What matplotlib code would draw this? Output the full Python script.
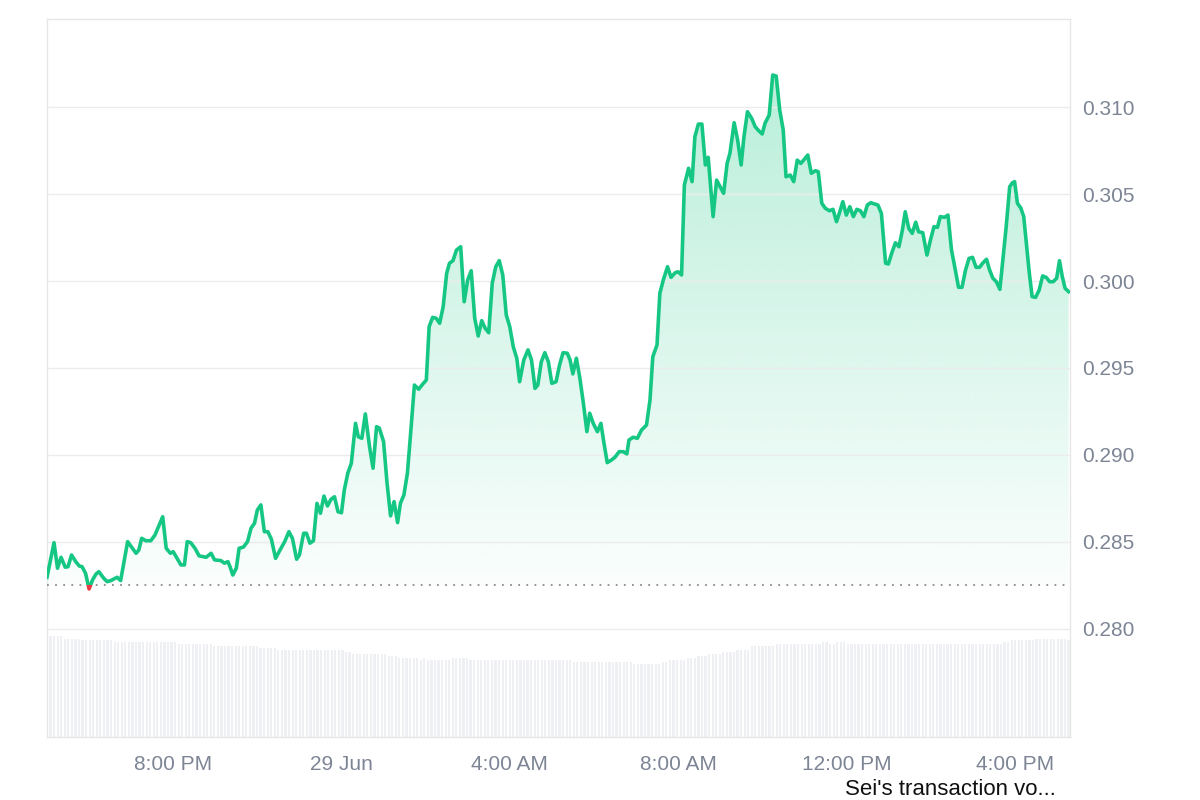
import numpy as np
import pandas as pd
import matplotlib
matplotlib.use("Agg")
import matplotlib.pyplot as plt
import matplotlib.dates as mdates
from matplotlib.colors import LinearSegmentedColormap, to_rgb
from matplotlib.patches import PathPatch, Rectangle
from matplotlib.path import Path
from matplotlib.transforms import blended_transform_factory

plt.rcParams["font.family"] = ["Liberation Sans", "DejaVu Sans"]

START = "2024-06-28 17:00"

# minutes after START
minutes = [
    0, 10, 15, 20, 26, 30, 35, 41, 46, 50,
    55, 60, 65, 70, 74, 81, 86, 91, 100, 105,
    115, 127, 131, 135, 141, 148, 154, 165, 170, 176,
    180, 191, 196, 200, 205, 211, 217, 227, 234, 239,
    248, 253, 258, 261, 265, 270, 274, 280, 286, 291,
    296, 300, 305, 310, 315, 320, 326, 331, 339, 345,
    350, 356, 360, 366, 370, 375, 380, 385, 390, 395,
    400, 405, 410, 415, 420, 424, 429, 434, 440, 444,
    449, 454, 460, 465, 470, 474, 480, 485, 490, 495,
    500, 504, 509, 514, 519, 524, 530, 536, 541, 545,
    550, 555, 560, 565, 570, 574, 579, 584, 590, 595,
    600, 605, 610, 615, 620, 625, 630, 635, 640, 645,
    650, 655, 660, 665, 670, 674, 680, 686, 691, 696,
    700, 705, 710, 715, 720, 726, 731, 736, 742, 746,
    750, 755, 760, 765, 770, 774, 779, 785, 790, 794,
    799, 805, 810, 816, 822, 827, 830, 836, 842, 848,
    855, 860, 864, 870, 874, 879, 885, 890, 896, 900,
    905, 909, 915, 920, 924, 929, 934, 939, 943, 950,
    955, 960, 965, 970, 974, 980, 985, 990, 994, 999,
    1005, 1010, 1015, 1020, 1024, 1030, 1035, 1040, 1045, 1050,
    1054, 1060, 1065, 1070, 1075, 1080, 1085, 1090, 1096, 1100,
    1105, 1110, 1116, 1121, 1126, 1130, 1135, 1140, 1145, 1150,
    1155, 1160, 1165, 1170, 1175, 1180, 1185, 1190, 1196, 1200,
    1205, 1210, 1215, 1220, 1224, 1229, 1234, 1239, 1243, 1249,
    1255, 1260, 1265, 1270, 1274, 1280, 1285, 1290, 1295, 1300,
    1305, 1310, 1315, 1320, 1325, 1330, 1335, 1340, 1344, 1349,
    1354, 1359, 1363, 1368, 1373, 1377, 1380, 1384, 1389, 1393,
    1397, 1401, 1405, 1410, 1415, 1420, 1425, 1430, 1435, 1440,
    1444, 1448, 1452, 1457,
]

# SEI price, USD
price = [
    0.28297, 0.28496, 0.28349, 0.28412, 0.28355, 0.28358, 0.28425, 0.28387, 0.28362, 0.28358,
    0.28320, 0.28230, 0.28282, 0.28316, 0.28329, 0.28291, 0.28272, 0.28278, 0.28297, 0.28278,
    0.28502, 0.28435, 0.28454, 0.28521, 0.28507, 0.28507, 0.28540, 0.28645, 0.28464, 0.28435,
    0.28444, 0.28368, 0.28368, 0.28502, 0.28496, 0.28464, 0.28420, 0.28412, 0.28435, 0.28397,
    0.28393, 0.28378, 0.28387, 0.28358, 0.28310, 0.28349, 0.28464, 0.28470, 0.28502, 0.28579,
    0.28608, 0.28684, 0.28713, 0.28559, 0.28559, 0.28516, 0.28406, 0.28444, 0.28502, 0.28559,
    0.28521, 0.28401, 0.28425, 0.28550, 0.28550, 0.28493, 0.28507, 0.28722, 0.28665, 0.28764,
    0.28707, 0.28745, 0.28760, 0.28674, 0.28668, 0.28799, 0.28895, 0.28952, 0.29182, 0.29105,
    0.29096, 0.29236, 0.29048, 0.28924, 0.29163, 0.29154, 0.29077, 0.28837, 0.28650, 0.28732,
    0.28611, 0.28722, 0.28770, 0.28895, 0.29144, 0.29402, 0.29378, 0.29408, 0.29431, 0.29737,
    0.29791, 0.29786, 0.29757, 0.29852, 0.30044, 0.30102, 0.30117, 0.30178, 0.30197, 0.29881,
    0.30006, 0.30059, 0.29786, 0.29684, 0.29772, 0.29728, 0.29703, 0.29987, 0.30082, 0.30117,
    0.30035, 0.29805, 0.29737, 0.29622, 0.29556, 0.29421, 0.29546, 0.29604, 0.29546, 0.29383,
    0.29402, 0.29536, 0.29588, 0.29536, 0.29412, 0.29421, 0.29517, 0.29588, 0.29585, 0.29546,
    0.29466, 0.29556, 0.29441, 0.29297, 0.29134, 0.29240, 0.29182, 0.29134, 0.29182, 0.29077,
    0.28956, 0.28971, 0.28987, 0.29019, 0.29019, 0.29006, 0.29086, 0.29102, 0.29096, 0.29144,
    0.29172, 0.29316, 0.29565, 0.29632, 0.29929, 0.30006, 0.30082, 0.30021, 0.30048, 0.30053,
    0.30035, 0.30552, 0.30648, 0.30571, 0.30829, 0.30902, 0.30902, 0.30667, 0.30711, 0.30370,
    0.30580, 0.30542, 0.30504, 0.30676, 0.30734, 0.30910, 0.30810, 0.30667, 0.30829, 0.30973,
    0.30935, 0.30887, 0.30864, 0.30845, 0.30906, 0.30954, 0.31184, 0.31178, 0.30983, 0.30868,
    0.30599, 0.30609, 0.30571, 0.30695, 0.30676, 0.30699, 0.30724, 0.30619, 0.30634, 0.30628,
    0.30447, 0.30418, 0.30404, 0.30412, 0.30341, 0.30389, 0.30456, 0.30379, 0.30427, 0.30370,
    0.30412, 0.30404, 0.30370, 0.30437, 0.30450, 0.30443, 0.30437, 0.30389, 0.30102, 0.30098,
    0.30163, 0.30220, 0.30197, 0.30293, 0.30398, 0.30303, 0.30274, 0.30338, 0.30283, 0.30278,
    0.30149, 0.30236, 0.30312, 0.30309, 0.30370, 0.30366, 0.30379, 0.30178, 0.30073, 0.29964,
    0.29964, 0.30063, 0.30130, 0.30136, 0.30079, 0.30079, 0.30105, 0.30125, 0.30067, 0.30016,
    0.29996, 0.29952, 0.30111, 0.30312, 0.30542, 0.30565, 0.30571, 0.30447, 0.30418, 0.30370,
    0.30207, 0.30044, 0.29910, 0.29906, 0.29948, 0.30029, 0.30021, 0.29996, 0.29996, 0.30016,
    0.30117, 0.30025, 0.29958, 0.29939,
]

open_price = 0.28255  # dotted reference line

# relative volume per bar (read as steps off the grey bars)
volume = (
    [101.0] * 5 + [98.3] * 5 + [96.7] * 9 + [94.7] * 18 + [92.7] * 10
    + [90.7] * 13 + [88.7] * 5 + [86.7] * 19 + [84.7] * 2 + [82.7] * 10
    + [80.7] * 3 + [78.7] * 6 + [76.7, 78.7] + [76.7] * 7 + [78.7] * 5
    + [76.7] * 29 + [74.7] * 17 + [72.7] * 8 + [74.7] * 2 + [76.7] * 5
    + [78.7] * 3 + [80.7] * 3 + [82.7] * 4 + [84.7] * 4 + [86.7] * 4
    + [90.7] * 7 + [92.7] * 13 + [94.7] * 2 + [92.7] * 2 + [94.7] * 3
    + [92.7] * 44 + [94.7] * 2 + [96.7] * 7 + [98.3] * 9 + [96.7]
)

tick_times = ["2024-06-28 20:00", "2024-06-29 00:00", "2024-06-29 04:00",
              "2024-06-29 08:00", "2024-06-29 12:00", "2024-06-29 16:00"]
tick_labels = ["8:00 PM", "29 Jun", "4:00 AM", "8:00 AM", "12:00 PM", "4:00 PM"]
price_ticks = [0.280, 0.285, 0.290, 0.295, 0.300, 0.305, 0.310]

GREEN = "#16c784"
RED = "#ea3943"
GRID = "#ececec"
LABEL = "#7d8595"

t = mdates.date2num(pd.Timestamp(START) + pd.to_timedelta(minutes, unit="min"))
p = np.array(price)
x0, x1 = t[0], t[-1] + 2 / 1440

fig = plt.figure(figsize=(12, 8), dpi=100)
rect = [47 / 1200, 1 - 737 / 800, 1023 / 1200, 718 / 800]
ax = fig.add_axes(rect)
axv = fig.add_axes([rect[0], rect[1], rect[2], 101.5 / 800])
axv.set_zorder(0)
ax.set_zorder(1)
ax.patch.set_alpha(0)

# ---- volume bars ----
vt = np.linspace(t[0], t[-1], len(volume))
axv.bar(vt, volume, width=(t[-1] - t[0]) / len(volume) * 0.62, color="#eef0f3", lw=0)
axv.set_xlim(x0, x1)
axv.set_ylim(0, 101.5)
axv.axis("off")

# ---- gradient fill under the price ----
g = to_rgb(GREEN)
cmap = LinearSegmentedColormap.from_list("fade", [(*g, 0.02), (*g, 0.30)])
im = ax.imshow(np.linspace(0, 1, 256).reshape(-1, 1), cmap=cmap, aspect="auto",
               origin="lower", extent=[x0, x1, open_price, 0.3120], zorder=1,
               interpolation="bilinear")
above = p >= open_price
poly = ax.fill_between(t, p, open_price, where=above, interpolate=True,
                       facecolor="none", edgecolor="none")
clip = PathPatch(Path.make_compound_path(*poly.get_paths()), transform=ax.transData,
                 facecolor="none", edgecolor="none")
ax.add_patch(clip)
im.set_clip_path(clip)
ax.fill_between(t, p, open_price, where=~above, interpolate=True,
                color=RED, alpha=0.12, lw=0)

# ---- price line, green above open, red below ----
trans = blended_transform_factory(ax.transAxes, ax.transData)
ln_g, = ax.plot(t, p, color=GREEN, lw=2.6, zorder=4, solid_joinstyle="round")
ln_g.set_clip_path(Rectangle((0, open_price), 1, 1, transform=trans))
ln_r, = ax.plot(t, p, color=RED, lw=2.6, zorder=4, solid_joinstyle="round")
ln_r.set_clip_path(Rectangle((0, open_price - 1), 1, 1, transform=trans))

ax.axhline(open_price, color="#8c8c8c", lw=1.3, linestyle=(0, (1, 3.5)), zorder=3)

# ---- axes styling ----
ax.set_xlim(x0, x1)
ax.set_ylim(0.27379, 0.31506)
ax.set_yticks(price_ticks)
ax.set_yticklabels([f"{v:.3f}" for v in price_ticks])
ax.yaxis.tick_right()
ax.set_xticks(mdates.date2num(pd.to_datetime(tick_times)))
ax.set_xticklabels(tick_labels)
ax.tick_params(axis="y", length=0, pad=8.5, labelsize=15, labelcolor=LABEL)
ax.tick_params(axis="x", length=0, pad=13, labelsize=15, labelcolor=LABEL)
ax.grid(axis="y", color=GRID, lw=1)
ax.set_axisbelow(False)
for s in ax.spines.values():
    s.set_color("#e6e6e6")
    s.set_linewidth(1)

fig.text(845 / 1200, 5 / 800, "Sei's transaction vo...", fontsize=16,
         color="#111111", ha="left", va="baseline")

fig.savefig("out.png", dpi=100, facecolor="white")
